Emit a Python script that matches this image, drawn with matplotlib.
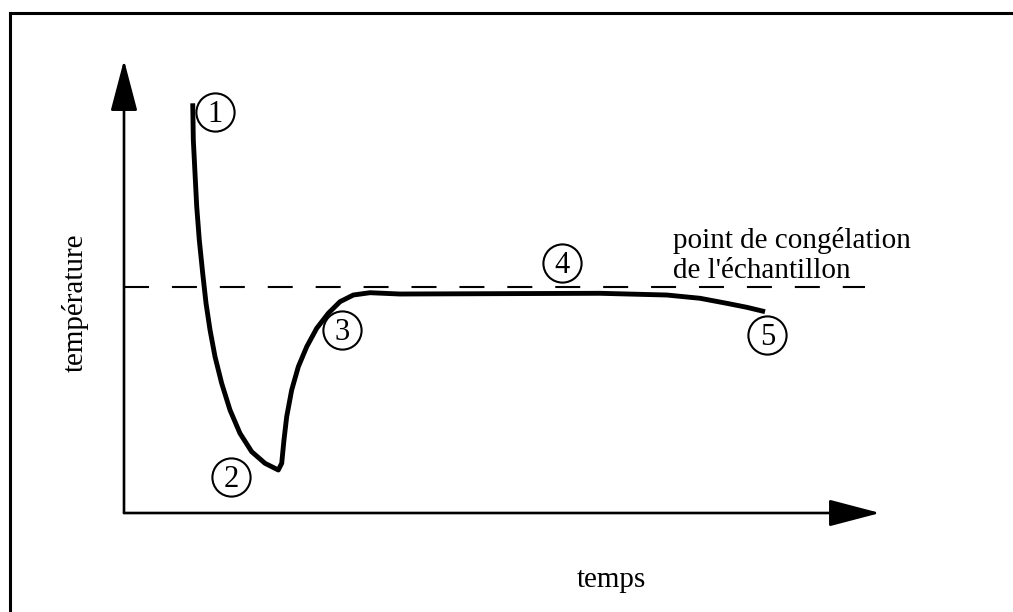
import matplotlib
matplotlib.use('Agg')
from matplotlib import pyplot as plt
from matplotlib.lines import Line2D

plt.rcParams['font.family'] = ['Liberation Serif', 'DejaVu Serif']

# courbe de refroidissement (unites arbitraires, 0-100)
temps = [9.09, 9.17, 9.39, 9.62, 9.96, 10.41, 10.85, 11.38, 12.04, 12.92, 14.02,
         15.34, 16.89, 18.65, 20.41,
         20.86, 21.16, 21.52, 22.18, 23.06, 24.17, 25.49, 27.02, 28.57, 30.33,
         32.54, 36.51, 62.96, 71.79, 76.19, 79.72, 82.37, 84.79]
temperature = [90.44, 82.34, 75.06, 67.62, 60.26, 52.91, 46.29, 40.40, 34.50, 28.63, 22.74,
               17.59, 13.53, 10.97, 9.49,
               10.97, 16.11, 21.26, 27.15, 32.30, 36.71, 40.77, 44.08, 46.64, 48.12,
               48.63, 48.34, 48.50, 48.12, 47.40, 46.29, 45.41, 44.44]

point_congelation = 50.0

# reperes numerotes
reperes = ['1', '2', '3', '4', '5']
reperes_t = [12.0, 14.2, 28.8, 57.9, 85.1]
reperes_T = [88.5, 7.9, 40.4, 55.2, 39.3]

fig = plt.figure(figsize=(10.13, 6.12), dpi=100)
W, H = 1013, 612
ax = fig.add_axes([124 / W, 1 - 513 / H, 756 / W, 453 / H])
ax.set_xlim(0, 100)
ax.set_ylim(0, 100)
ax.set_xticks([])
ax.set_yticks([])
for s in ax.spines.values():
    s.set_visible(False)

# axes avec fleches
arrow = dict(arrowstyle='-|>,head_length=1.6,head_width=0.42', mutation_scale=20,
             lw=1.9, color='black', fc='black', shrinkA=0, shrinkB=0)
ax.annotate('', xy=(0, 1), xytext=(0, 0), xycoords='axes fraction',
            arrowprops=arrow, annotation_clip=False)
ax.annotate('', xy=(1, 0), xytext=(0, 0), xycoords='axes fraction',
            arrowprops=arrow, annotation_clip=False)

# point de congelation
ax.plot([0, 98], [point_congelation, point_congelation], color='black', lw=1.5,
        dashes=(12, 11), clip_on=False)

ax.plot(temps, temperature, color='black', lw=3.5, solid_capstyle='butt',
        solid_joinstyle='round', clip_on=False, zorder=3)

ax.plot(reperes_t, reperes_T, 'o', ms=27.5, mfc='white', mec='black', mew=1.5,
        clip_on=False, zorder=4)
for lab, t, T in zip(reperes, reperes_t, reperes_T):
    ax.text(t, T - 0.6, lab, ha='center', va='center', fontsize=22, zorder=5)

fig.text(673 / W, 1 - 248 / H, 'point de congélation', fontsize=21, va='baseline')
fig.text(673 / W, 1 - 278 / H, "de l'échantillon", fontsize=21, va='baseline')

fig.text(611 / W, 1 - 580 / H, 'temps', fontsize=21, ha='center', va='center')
fig.text(75 / W, 1 - 303 / H, 'température', fontsize=21, ha='center', va='center',
         rotation=90)

# cadre (haut et gauche)
fig.add_artist(Line2D([10 / W, 1], [1 - 13 / H, 1 - 13 / H], color='black', lw=2.2))
fig.add_artist(Line2D([10 / W, 10 / W], [0, 1 - 13 / H], color='black', lw=2.2))

fig.savefig('out.png', dpi=100)
